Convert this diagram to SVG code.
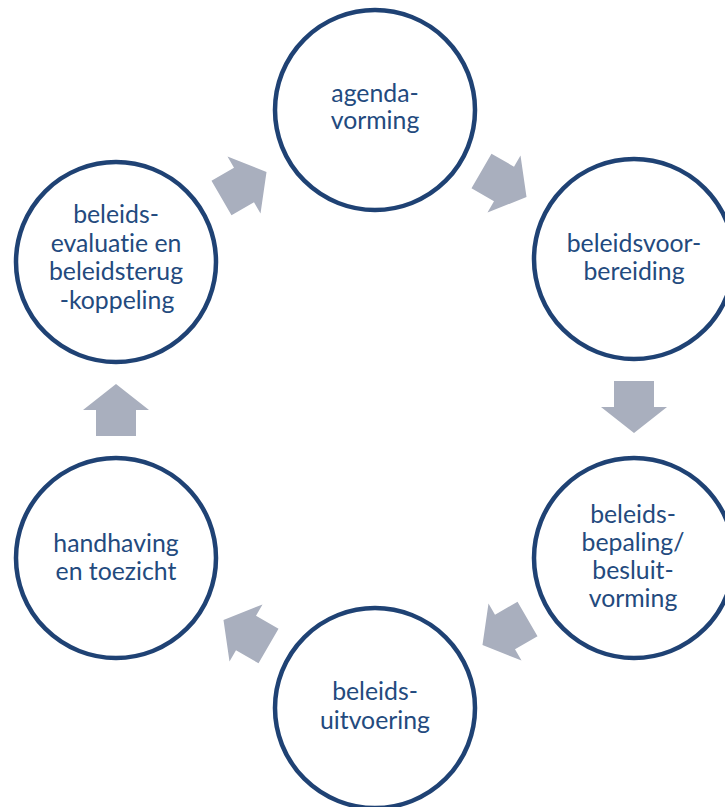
<svg xmlns="http://www.w3.org/2000/svg" width="725" height="807" viewBox="0 0 725 807">
  <defs>
    <style>
      .node circle { fill: #ffffff; stroke: #1F4274; stroke-width: 4.5; }
      .node text { font-family: Lato, "Open Sans", "Liberation Sans", sans-serif; font-size: 24.8px; fill: #234A7E; text-anchor: middle; font-variant-ligatures: none; font-feature-settings: "liga" 0, "dlig" 0; }
      .arrow { fill: #A9AFBE; }
    </style>
    <polygon id="blockArrow" points="-26,-20 0,-20 0,-33 26,0 0,33 0,20 -26,20"/>
  </defs>
  <rect width="725" height="807" fill="#ffffff"/>
  <g id="connectors">
    <use href="#blockArrow" class="arrow" transform="translate(504,184) rotate(30)"/>
    <use href="#blockArrow" class="arrow" transform="translate(634,407) rotate(90)"/>
    <use href="#blockArrow" class="arrow" transform="translate(505,632) rotate(150)"/>
    <use href="#blockArrow" class="arrow" transform="translate(246,633) rotate(210)"/>
    <use href="#blockArrow" class="arrow" transform="translate(116,410) rotate(-90)"/>
    <use href="#blockArrow" class="arrow" transform="translate(244,185) rotate(-30)"/>
  </g>
  <g id="agendavorming" class="node">
    <circle cx="375" cy="110" r="100"/>
    <text x="375" y="102">agenda-</text>
    <text x="375" y="129">vorming</text>
  </g>
  <g id="beleidsvoorbereiding" class="node">
    <circle cx="634" cy="259" r="100"/>
    <text x="634" y="252">beleidsvoor-</text>
    <text x="634" y="280">bereiding</text>
  </g>
  <g id="besluitvorming" class="node">
    <circle cx="634" cy="558" r="100"/>
    <text x="633" y="523">beleids-</text>
    <text x="633" y="551">bepaling/</text>
    <text x="633" y="579">besluit-</text>
    <text x="633" y="607">vorming</text>
  </g>
  <g id="beleidsuitvoering" class="node">
    <circle cx="375" cy="708" r="100"/>
    <text x="375" y="700">beleids-</text>
    <text x="375" y="729">uitvoering</text>
  </g>
  <g id="handhaving" class="node">
    <circle cx="116" cy="558" r="100"/>
    <text x="116" y="552">handhaving</text>
    <text x="116" y="580">en toezicht</text>
  </g>
  <g id="beleidsevaluatie" class="node">
    <circle cx="116" cy="262" r="100"/>
    <text x="116" y="223">beleids-</text>
    <text x="116" y="251.5">evaluatie en</text>
    <text x="116" y="280">beleidsterug</text>
    <text x="117" y="308.5">-koppeling</text>
  </g>
</svg>
